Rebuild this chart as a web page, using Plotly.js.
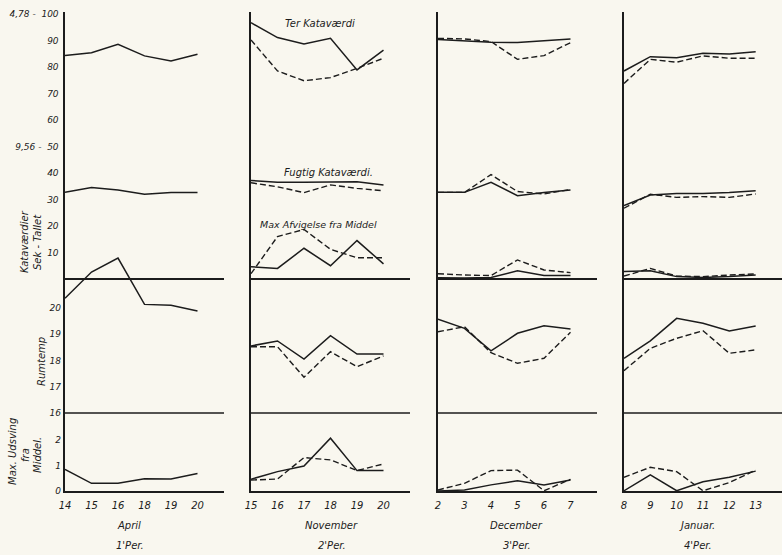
<!DOCTYPE html>
<html>
<head>
<meta charset="utf-8">
<script src="https://cdn.plot.ly/plotly-3.0.1.min.js"></script>
<style>html,body{margin:0;padding:0;background:#f9f7ef;}#chart{width:782px;height:555px;}</style>
</head>
<body>
<div id="chart"></div>
<script>
// ---- Categories (day labels) ----
const aprilDays = ['14', '15', '16', '18', '19', '20'];
const novDays   = ['15', '16', '17', '18', '19', '20'];
const decDays   = ['2', '3', '4', '5', '6', '7'];
const janDays   = ['8', '9', '10', '11', '12', '13'];

const monthLabels  = ['April', 'November', 'December', 'Januar.'];
const periodLabels = ["1'Per.", "2'Per.", "3'Per.", "4'Per."];

// ---- April ----
const aprTer    = [84.3, 85.4, 88.6, 84.2, 82.3, 84.8];
const aprFugtig = [32.7, 34.5, 33.6, 32.0, 32.6, 32.6];
const aprRum    = [20.36, 21.36, 21.89, 20.13, 20.10, 19.88];
const aprUds    = [0.85, 0.30, 0.30, 0.48, 0.47, 0.69];

// ---- November ----
const novTerA = [96.7, 91.1, 88.7, 90.8, 78.9, 86.4];
const novTerB = [90.2, 78.5, 74.8, 76.0, 79.5, 83.3];
const novFugA = [37.2, 36.5, 36.5, 36.7, 36.7, 35.5];
const novFugB = [36.3, 34.8, 32.6, 35.5, 34.2, 33.3];
const novAfvA = [4.6, 4.0, 11.6, 5.0, 14.5, 5.7];
const novAfvB = [2.0, 16.0, 18.7, 11.2, 8.0, 8.0];
const novRumA = [18.55, 18.74, 18.05, 18.94, 18.24, 18.24];
const novRumB = [18.52, 18.52, 17.36, 18.33, 17.76, 18.17];
const novUdsA = [0.46, 0.76, 0.98, 2.07, 0.80, 0.80];
const novUdsB = [0.43, 0.47, 1.31, 1.22, 0.80, 1.06];

// ---- December ----
const decTerA = [90.4, 89.9, 89.3, 89.2, 89.9, 90.6];
const decTerB = [90.8, 90.6, 89.6, 82.9, 84.3, 89.2];
const decFugA = [32.7, 32.7, 36.5, 31.4, 32.6, 33.6];
const decFugB = [32.7, 32.7, 39.4, 33.0, 32.1, 33.8];
const decAfvA = [0.5, 0.4, 0.6, 3.1, 1.3, 1.3];
const decAfvB = [2.0, 1.5, 1.3, 7.2, 3.4, 2.4];
const decRumA = [19.57, 19.22, 18.36, 19.03, 19.32, 19.19];
const decRumB = [19.09, 19.28, 18.29, 17.89, 18.08, 19.07];
const decUdsA = [0.00, 0.04, 0.24, 0.40, 0.24, 0.43];
const decUdsB = [0.04, 0.30, 0.80, 0.82, 0.01, 0.46];

// ---- Januar ----
const janTerA = [78.5, 83.9, 83.5, 85.2, 84.9, 85.8];
const janTerB = [73.8, 82.9, 81.8, 84.2, 83.3, 83.3];
const janFugA = [27.7, 31.7, 32.3, 32.3, 32.6, 33.3];
const janFugB = [26.7, 32.0, 30.8, 31.1, 30.8, 32.1];
const janAfvA = [2.8, 3.1, 0.9, 0.6, 0.9, 1.5];
const janAfvB = [1.1, 4.0, 1.1, 0.9, 1.5, 1.9];
const janRumA = [18.08, 18.74, 19.60, 19.41, 19.12, 19.31];
const janRumB = [17.61, 18.46, 18.84, 19.13, 18.27, 18.40];
const janUdsA = [0.01, 0.63, 0.01, 0.36, 0.54, 0.78];
const janUdsB = [0.54, 0.93, 0.76, 0.01, 0.33, 0.82];

// Y-axis tick labels
const kataTickVals = [10, 20, 30, 40, 50, 60, 70, 80, 90, 100];
const kataTickText = ['10', '20', '30', '40', '9,56 -  50', '60', '70', '80', '90', '4,78 -  100'];
const rumTickVals = [16, 17, 18, 19, 20];
const rumTickText = ['16', '17', '18', '19', '20'];
const udsTickVals = [0, 1, 2];
const udsTickText = ['0', '1', '2'];

// ---- Layout geometry ----
const W = 782, H = 555;
const INK = '#1c1c1c';
const BG = '#f9f7ef';
const FAM = 'DejaVu Sans, sans-serif';
const FONT = {family: FAM, size: 9, color: INK, style: 'italic'};
const TOP = 12, BOT = 491;
const yDom = [(H - BOT) / H, (H - TOP) / H];
const panelPx = [[65, 224], [251, 410], [438, 597], [624, 782]];

// Ranges chosen so that the three scales line up as in the original
const kataRange = [-(BOT - 279) / 2.65, (279 - TOP) / 2.65];
const rumRange  = [16 - (BOT - 413) / 26.3, 16 + (413 - TOP) / 26.3];
const udsRange  = [0, (BOT - TOP) / 25.5];

const panels = [
  {days: aprilDays, ter: [aprTer], fug: [aprFugtig], afv: [], rum: [aprRum], uds: [aprUds]},
  {days: novDays, ter: [novTerA, novTerB], fug: [novFugA, novFugB], afv: [novAfvA, novAfvB], rum: [novRumA, novRumB], uds: [novUdsA, novUdsB]},
  {days: decDays, ter: [decTerA, decTerB], fug: [decFugA, decFugB], afv: [decAfvA, decAfvB], rum: [decRumA, decRumB], uds: [decUdsA, decUdsB]},
  {days: janDays, ter: [janTerA, janTerB], fug: [janFugA, janFugB], afv: [janAfvA, janAfvB], rum: [janRumA, janRumB], uds: [janUdsA, janUdsB]}
];

const traces = [];
const layout = {
  width: W, height: H,
  margin: {l: 0, r: 0, t: 0, b: 0},
  paper_bgcolor: BG, plot_bgcolor: 'rgba(0,0,0,0)',
  showlegend: false,
  font: FONT,
  shapes: [],
  annotations: []
};

function lineStyle(i) {
  return i === 0 ? {color: INK, width: 1.5, dash: 'solid'} : {color: INK, width: 1.4, dash: '6px,3px'};
}
const yTickFont = {family: FAM, size: 9, color: INK, style: 'italic'};

panels.forEach((p, k) => {
  const n = k + 1;
  const xs = p.days.map((d, i) => i);
  const yK = 3 * k + 1, yR = 3 * k + 2, yU = 3 * k + 3;
  const xid = 'x' + (n === 1 ? '' : n);
  const yKid = 'y' + (yK === 1 ? '' : yK), yRid = 'y' + yR, yUid = 'y' + yU;
  const first = k === 0;

  layout['xaxis' + (n === 1 ? '' : n)] = {
    domain: [panelPx[k][0] / W, panelPx[k][1] / W],
    range: [0, 6], anchor: yKid,
    tickvals: xs, ticktext: p.days, ticks: '',
    ticklabelstandoff: 4,
    tickfont: {family: FAM, size: 10, color: INK, style: 'italic'},
    showgrid: false, zeroline: false,
    showline: true, linecolor: INK, linewidth: 1.6,
    fixedrange: true
  };
  layout['yaxis' + (yK === 1 ? '' : yK)] = {
    domain: yDom, range: kataRange, anchor: xid,
    tickvals: kataTickVals, ticktext: kataTickText,
    showticklabels: first, ticks: '', ticklabelstandoff: 3,
    tickfont: yTickFont,
    showgrid: false, zeroline: true, zerolinecolor: INK, zerolinewidth: 1.6,
    showline: true, linecolor: INK, linewidth: 1.6, fixedrange: true
  };
  layout['yaxis' + yR] = {
    domain: yDom, range: rumRange, anchor: xid, overlaying: yKid,
    tickvals: rumTickVals, ticktext: rumTickText,
    showticklabels: first, ticks: '', ticklabelstandoff: 3,
    tickfont: yTickFont,
    showgrid: false, zeroline: false, showline: false, fixedrange: true
  };
  layout['yaxis' + yU] = {
    domain: yDom, range: udsRange, anchor: xid, overlaying: yKid,
    tickvals: udsTickVals, ticktext: udsTickText,
    showticklabels: first, ticks: '', ticklabelstandoff: 3,
    tickfont: yTickFont,
    showgrid: false, zeroline: false, showline: false, fixedrange: true
  };

  // Rumtemp 16 separator line
  layout.shapes.push({
    type: 'line', xref: xid + ' domain', yref: yRid,
    x0: 0, x1: 1, y0: 16, y1: 16,
    line: {color: INK, width: 1.5}
  });

  [p.ter, p.fug, p.afv].forEach(group => group.forEach((vals, i) => {
    traces.push({x: xs, y: vals, xaxis: xid, yaxis: yKid, type: 'scatter', mode: 'lines',
      line: lineStyle(i), hoverinfo: 'skip'});
  }));
  p.rum.forEach((vals, i) => traces.push({x: xs, y: vals, xaxis: xid, yaxis: yRid, type: 'scatter',
    mode: 'lines', line: lineStyle(i), hoverinfo: 'skip', cliponaxis: false}));
  p.uds.forEach((vals, i) => traces.push({x: xs, y: vals, xaxis: xid, yaxis: yUid, type: 'scatter',
    mode: 'lines', line: lineStyle(i), hoverinfo: 'skip'}));
});

// ---- Text annotations (pixel positions converted to paper coords) ----
function ann(text, x, y, size, opts) {
  layout.annotations.push(Object.assign({
    text: text, xref: 'paper', yref: 'paper', x: x / W, y: 1 - y / H,
    showarrow: false, xanchor: 'center', yanchor: 'middle',
    font: {family: FAM, size: size, color: INK, style: 'italic'}
  }, opts || {}));
}
ann('Ter Kataværdi', 320, 23, 10);
ann('Fugtig Kataværdi.', 328, 173, 10);
ann('Max Afvigelse fra Middel', 318, 224, 9.5);

ann('Kataværdier', 24, 242, 10, {textangle: -90});
ann('Sek - Tallet', 37, 242, 10, {textangle: -90});
ann('Rumtemp', 41, 362, 10, {textangle: -90});
ann('Max. Udsving', 12, 452, 10, {textangle: -90});
ann('fra', 25, 455, 10, {textangle: -90});
ann('Middel.', 37, 455, 10, {textangle: -90});

const monthX = [129, 331, 516, 697];
monthLabels.forEach((m, i) => {
  ann(m, monthX[i], 525, 10);
  ann(periodLabels[i], monthX[i] + 1, 545, 10);
});

Plotly.newPlot('chart', traces, layout, {staticPlot: true, displayModeBar: false});
</script>
</body>
</html>
